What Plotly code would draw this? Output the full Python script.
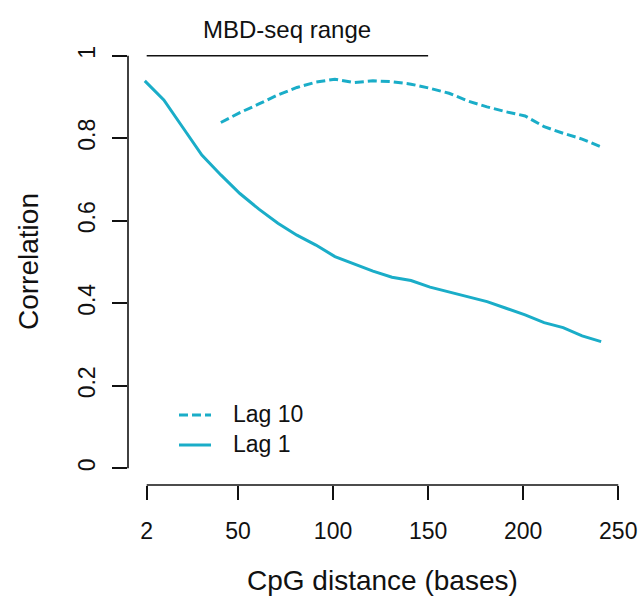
import plotly.graph_objects as go

# ---- data ----
distance = [1, 11, 21, 31, 41, 51, 61, 71, 81, 91, 101, 111, 121, 131, 141,
            151, 161, 171, 181, 191, 201, 211, 221, 231, 241]
lag1 = [0.939, 0.893, 0.826, 0.759, 0.711, 0.666, 0.628, 0.594, 0.565, 0.541,
        0.513, 0.495, 0.478, 0.463, 0.455, 0.439, 0.427, 0.415, 0.404, 0.388,
        0.372, 0.353, 0.341, 0.321, 0.307]
distance10 = distance[4:]
lag10 = [0.838, 0.862, 0.883, 0.905, 0.923, 0.936, 0.943, 0.935, 0.939, 0.937,
         0.931, 0.921, 0.909, 0.890, 0.876, 0.864, 0.854, 0.828, 0.812, 0.798,
         0.779]
mbd_range_x = [2, 150]
mbd_range_y = [1, 1]
x_ticks = [2, 50, 100, 150, 200, 250]
y_ticks = [0, 0.2, 0.4, 0.6, 0.8, 1]
y_ticklabels = ["0", "0.2", "0.4", "0.6", "0.8", "1"]

COL = "#1AADC8"
DASH = "9px,4px"
FONT = "Liberation Sans, Arial, Helvetica, sans-serif"
W, H = 641, 600
L, R, T, B = 128, 11, 40, 115
PW, PH = W - L - R, H - T - B

fig = go.Figure()
fig.add_trace(go.Scatter(x=distance10, y=lag10, mode="lines",
                         line=dict(color=COL, width=3, dash=DASH),
                         showlegend=False, hoverinfo="skip"))
fig.add_trace(go.Scatter(x=distance, y=lag1, mode="lines",
                         line=dict(color=COL, width=3), showlegend=False, hoverinfo="skip"))
fig.add_trace(go.Scatter(x=mbd_range_x, y=mbd_range_y, mode="lines",
                         line=dict(color="#111111", width=1.6), showlegend=False,
                         hoverinfo="skip"))

def px_x(p):
    return (p - L) / PW

def px_y(p):
    return (H - B - p) / PH

# R-style axis lines spanning first..last tick
fig.add_shape(type="line", xref="x", yref="paper", x0=x_ticks[0], x1=x_ticks[-1],
              y0=0, y1=0, line=dict(color="#111111", width=1.6))
fig.add_shape(type="line", xref="paper", yref="y", x0=0, x1=0,
              y0=y_ticks[0], y1=y_ticks[-1], line=dict(color="#111111", width=1.6))

# legend (manual, R style)
fig.add_shape(type="line", xref="paper", yref="paper", x0=px_x(179), x1=px_x(211),
              y0=px_y(415), y1=px_y(415), line=dict(color=COL, width=3, dash=DASH))
fig.add_shape(type="line", xref="paper", yref="paper", x0=px_x(179), x1=px_x(211),
              y0=px_y(445), y1=px_y(445), line=dict(color=COL, width=3))
for txt, py in [("Lag 10", 414), ("Lag 1", 444)]:
    fig.add_annotation(text=txt, xref="paper", yref="paper", x=px_x(231), y=px_y(py),
                       xanchor="left", yanchor="middle", showarrow=False,
                       font=dict(family=FONT, size=23, color="#111111"))

fig.add_annotation(text="MBD-seq range", xref="x", yref="paper", x=76, y=px_y(30),
                   xanchor="center", yanchor="middle", showarrow=False,
                   font=dict(family=FONT, size=24, color="#111111"))
fig.add_annotation(text="CpG distance (bases)", xref="paper", yref="paper",
                   x=px_x(382), y=px_y(580), xanchor="center", yanchor="middle",
                   showarrow=False, font=dict(family=FONT, size=28, color="#111111"))
fig.add_annotation(text="Correlation", xref="paper", yref="paper",
                   x=px_x(28), y=px_y(262), xanchor="center", yanchor="middle",
                   textangle=-90, showarrow=False,
                   font=dict(family=FONT, size=28, color="#111111"))

fig.update_layout(
    width=W, height=H, margin=dict(l=L, r=R, t=T, b=B, autoexpand=False),
    paper_bgcolor="white", plot_bgcolor="white",
    xaxis=dict(range=[-7.83, 256.17], tickvals=x_ticks, ticktext=[str(v) for v in x_ticks],
               ticks="outside", ticklen=14, tickwidth=1.6, tickcolor="#111111",
               showline=False, showgrid=False, zeroline=False, automargin=False,
               tickfont=dict(family=FONT, size=23, color="#111111"),
               ticklabelstandoff=11),
    yaxis=dict(range=[-0.04047, 1.03805], tickvals=y_ticks, ticktext=y_ticklabels,
               ticks="outside", ticklen=15, tickwidth=1.6, tickcolor="#111111",
               showline=False, showgrid=False, zeroline=False, tickangle=-90,
               automargin=False,
               tickfont=dict(family=FONT, size=23, color="#111111"),
               ticklabelstandoff=8),
    showlegend=False,
)
fig.write_html("out.html", config={"displayModeBar": False},
               post_script="document.body.style.margin='0px';document.body.style.overflow='hidden';")
